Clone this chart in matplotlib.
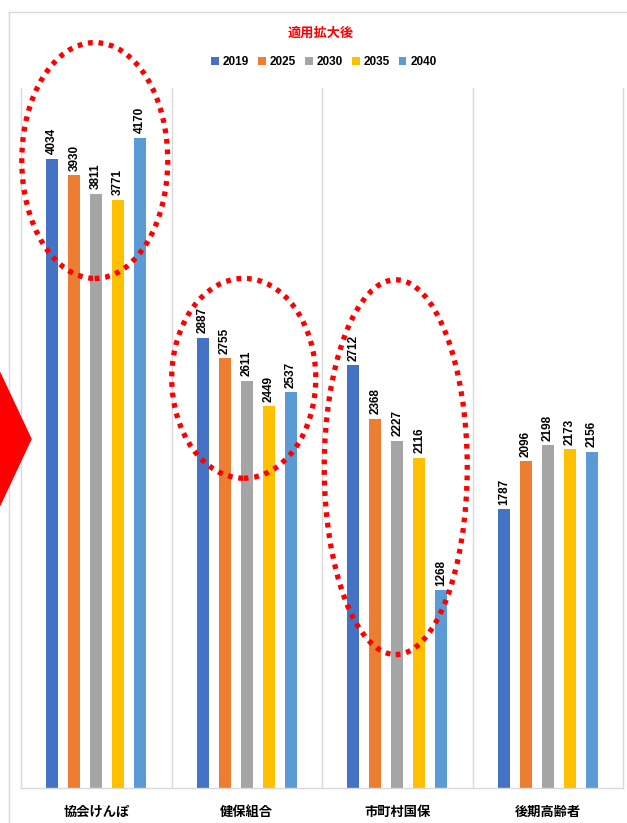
import numpy as np
import matplotlib.pyplot as plt
from matplotlib.patches import Ellipse, Polygon
from matplotlib.lines import Line2D

# Data: insured persons per scheme by year (after coverage expansion)
categories = ['協会けんぽ', '健保組合', '市町村国保', '後期高齢者']
years = ['2019', '2025', '2030', '2035', '2040']
v2019 = [4034, 2887, 2712, 1787]
v2025 = [3930, 2755, 2368, 2096]
v2030 = [3811, 2611, 2227, 2198]
v2035 = [3771, 2449, 2116, 2173]
v2040 = [4170, 2537, 1268, 2156]
series = [v2019, v2025, v2030, v2035, v2040]
colors = ['#4472C4', '#ED7D31', '#A5A5A5', '#FFC000', '#5B9BD5']

W, H = 627, 823
fig = plt.figure(figsize=(W / 100, H / 100), dpi=100)
ax = fig.add_axes([21 / W, 1 - 788 / H, (623 - 21) / W, (788 - 88) / H])

num_font = dict(family=['Liberation Sans', 'DejaVu Sans'], fontweight='bold')
jp_font = dict(family=['Noto Sans CJK JP', 'DejaVu Sans'], fontweight='bold')

x = np.arange(len(categories))
step = 0.146
bw = 0.08
for i, (vals, c) in enumerate(zip(series, colors)):
    xs = x + (i - 2) * step
    ax.bar(xs, vals, width=bw, color=c, label=years[i], zorder=2)
    for xi, v in zip(xs, vals):
        ax.text(xi, v + 30, str(v), rotation=90, ha='center', va='bottom',
                fontsize=8.5, color='black', zorder=3, **num_font)

ax.set_xlim(-0.5, 3.5)
ax.set_ylim(0, 4490)
ax.set_yticks([])
ax.set_xticks(x)
ax.set_xticklabels(categories, fontsize=9.5, **jp_font)
ax.tick_params(axis='x', length=0, pad=12)
for xb in np.arange(0.5, 3.5, 1.0):
    ax.axvline(xb, color='#d9d9d9', lw=1, zorder=1)
ax.spines['top'].set_visible(False)
for s in ['left', 'right', 'bottom']:
    ax.spines[s].set_color('#d9d9d9')
    ax.spines[s].set_linewidth(1)

# dotted red circles highlighting groups
for cx, cy, ew, eh in [(-0.01, 4025, 0.97, 1513), (0.98, 2628, 0.957, 1282), (1.99, 2058, 0.95, 2404)]:
    e = Ellipse((cx, cy), ew, eh, fill=False, edgecolor='red', lw=3.8,
                linestyle=(0, (0.9, 1.1)), clip_on=False, zorder=4)
    e.set_capstyle('butt')
    ax.add_patch(e)

# chart frame
fig.add_artist(Line2D([9 / W, 9 / W], [0, 1 - 12 / H], color='#d9d9d9', lw=1))
fig.add_artist(Line2D([9 / W, 1], [1 - 12 / H, 1 - 12 / H], color='#d9d9d9', lw=1))

# red arrow on the left edge
arrow = Polygon([(-20 / W, 1 - 373 / H), (0, 1 - 373 / H), (31 / W, 1 - 439 / H),
                 (0, 1 - 505 / H), (-20 / W, 1 - 505 / H)],
                closed=True, color='red', transform=fig.transFigure, zorder=10)
fig.add_artist(arrow)

fig.text(321 / W, 1 - 33 / H, '適用拡大後', ha='center', va='center', color='red',
         fontsize=9.5, **jp_font)
leg = fig.legend(loc='center', bbox_to_anchor=(324 / W, 1 - 62 / H), ncol=5, frameon=False,
                 handlelength=0.65, handleheight=0.65, handletextpad=0.35, columnspacing=0.75,
                 prop=dict(family=['Liberation Sans'], weight='bold', size=8.5))

fig.savefig('out.png', dpi=100)
